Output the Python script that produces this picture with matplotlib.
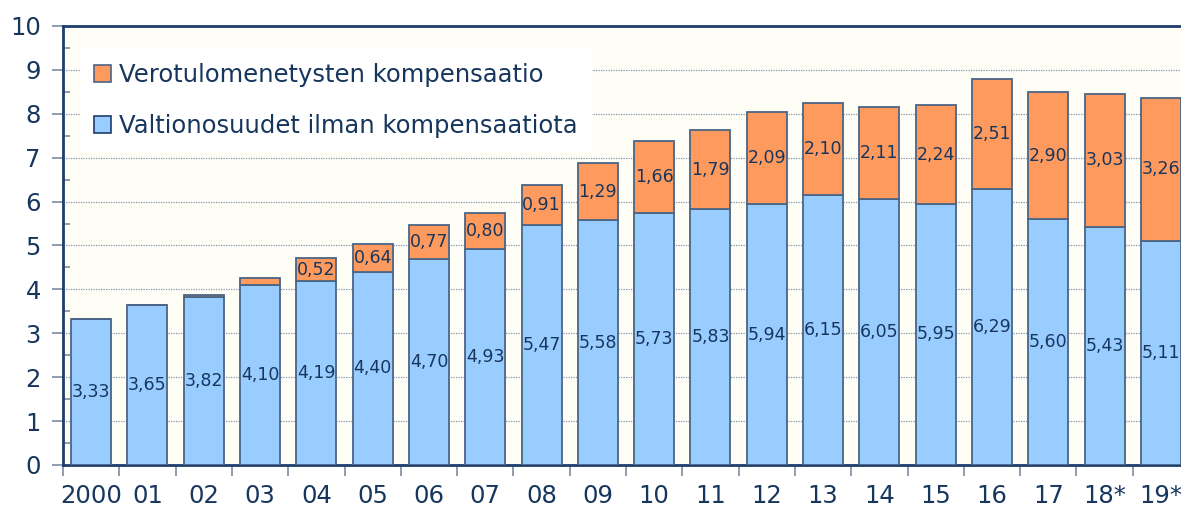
import matplotlib
matplotlib.use("Agg")
import matplotlib.pyplot as plt
from matplotlib.patches import Patch
from matplotlib.ticker import MultipleLocator
import numpy as np

categories = ["2000", "01", "02", "03", "04", "05", "06", "07", "08", "09",
              "10", "11", "12", "13", "14", "15", "16", "17", "18*", "19*"]
valtionosuudet = [3.33, 3.65, 3.82, 4.10, 4.19, 4.40, 4.70, 4.93, 5.47, 5.58,
                  5.73, 5.83, 5.94, 6.15, 6.05, 5.95, 6.29, 5.60, 5.43, 5.11]
kompensaatio = [0.0, 0.0, 0.05, 0.17, 0.52, 0.64, 0.77, 0.80, 0.91, 1.29,
                1.66, 1.79, 2.09, 2.10, 2.11, 2.24, 2.51, 2.90, 3.03, 3.26]
show_komp_label = [False, False, False, False] + [True] * 16

navy = "#17365D"
blue = "#99CCFF"
orange = "#FF9A5E"
edge = "#4A6585"

plt.rcParams['font.family'] = ['DejaVu Sans']

fig = plt.figure(figsize=(11.81, 5.09), dpi=100)
fig.patch.set_facecolor("white")
ax = fig.add_axes([63 / 1181, 44 / 509, (1189 - 63) / 1181, (465 - 26) / 509])
ax.set_facecolor("#FEFEF7")

x = np.arange(len(categories))
w = 0.71
ax.bar(x, valtionosuudet, width=w, color=blue, edgecolor=edge, linewidth=1.3, zorder=3)
ax.bar(x, kompensaatio, width=w, bottom=valtionosuudet, color=orange,
       edgecolor=edge, linewidth=1.3, zorder=3)

fmt = lambda v: f"{v:.2f}".replace(".", ",")
for i in range(len(categories)):
    ax.text(x[i], valtionosuudet[i] / 2, fmt(valtionosuudet[i]), ha="center", va="center",
            fontsize=12.5, color=navy, zorder=4)
    if show_komp_label[i]:
        ax.text(x[i], valtionosuudet[i] + kompensaatio[i] / 2, fmt(kompensaatio[i]),
                ha="center", va="center", fontsize=12.5, color=navy, zorder=4)

ax.set_xlim(-0.5, len(categories) - 0.5)
ax.set_ylim(0, 10)
ax.yaxis.set_major_locator(MultipleLocator(1))
ax.yaxis.set_minor_locator(MultipleLocator(0.5))
ax.grid(axis="y", which="major", linestyle=(0, (1, 1)), color="#8797AD", linewidth=0.9, zorder=1)

ax.set_xticks(x)
ax.set_xticklabels(categories)
ax.set_xticks(np.arange(len(categories) + 1) - 0.5, minor=True)
ax.tick_params(axis="x", which="major", length=0, pad=14, labelsize=17.5, labelcolor=navy)
ax.tick_params(axis="x", which="minor", length=8, width=1.2, color="#7A8CA3", direction="out")
ax.tick_params(axis="y", which="major", length=8, width=1.2, color="#7A8CA3", direction="out",
               labelsize=17.5, labelcolor=navy, pad=8)
ax.tick_params(axis="y", which="minor", length=5, width=1.2, color="#7A8CA3", direction="in")

for s in ["left", "top", "bottom"]:
    ax.spines[s].set_color("#1F3D6B")
    ax.spines[s].set_linewidth(2)
ax.spines["right"].set_visible(False)

handles = [Patch(facecolor=orange, edgecolor=edge, linewidth=1.2),
           Patch(facecolor=blue, edgecolor="#1F3D6B", linewidth=1.2)]
labels = ["Verotulomenetysten kompensaatio", "Valtionosuudet ilman kompensaatiota"]
leg = ax.legend(handles, labels, loc="upper left", bbox_to_anchor=(0.015, 0.95),
                fontsize=17.5, frameon=True, fancybox=False, framealpha=1,
                facecolor="white", edgecolor="none", handlelength=0.7, handleheight=0.7,
                handletextpad=0.3, labelspacing=1.12, borderpad=0.6, borderaxespad=0)
for t in leg.get_texts():
    t.set_color(navy)
leg.set_zorder(5)

fig.savefig("out.png", dpi=100)
